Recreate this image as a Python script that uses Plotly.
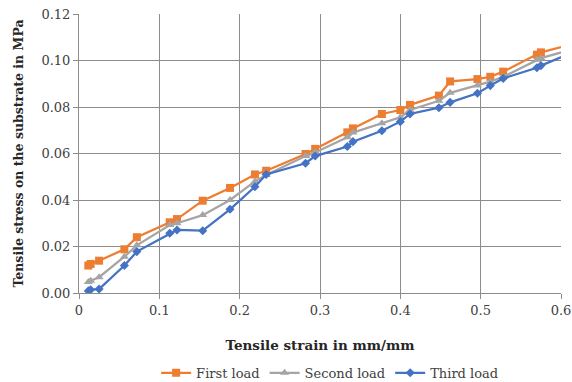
import plotly.graph_objects as go

strain = [0.0116, 0.0145, 0.025, 0.0565, 0.072, 0.113, 0.122, 0.154, 0.188, 0.219,
          0.233, 0.282, 0.294, 0.334, 0.341, 0.377, 0.400, 0.412, 0.448, 0.462,
          0.496, 0.512, 0.528, 0.570, 0.575, 0.62]
first_load = [0.0118, 0.0125, 0.0139, 0.0188, 0.024, 0.0304, 0.0318, 0.0397, 0.0452, 0.051,
              0.0526, 0.0598, 0.062, 0.0691, 0.0708, 0.077, 0.0787, 0.0809, 0.0849, 0.091,
              0.092, 0.093, 0.0952, 0.1025, 0.1035, 0.1075]
second_load = [0.0047, 0.0053, 0.0068, 0.0156, 0.0205, 0.0292, 0.030, 0.0335, 0.040, 0.048,
               0.0508, 0.0589, 0.0604, 0.067, 0.069, 0.073, 0.0756, 0.0787, 0.0827, 0.0861,
               0.0892, 0.0909, 0.093, 0.1003, 0.101, 0.1054]
third_load = [0.0009, 0.0014, 0.0017, 0.0118, 0.0178, 0.0257, 0.0271, 0.0268, 0.036, 0.0457,
              0.051, 0.0558, 0.0589, 0.063, 0.0651, 0.0698, 0.0737, 0.077, 0.0797, 0.082,
              0.0859, 0.0892, 0.0923, 0.0969, 0.0978, 0.1043]

x_tick_vals = [0, 0.1, 0.2, 0.3, 0.4, 0.5, 0.6]
x_tick_text = ["0", "0.1", "0.2", "0.3", "0.4", "0.5", "0.6"]
y_tick_vals = [0, 0.02, 0.04, 0.06, 0.08, 0.10, 0.12]
y_tick_text = ["0.00", "0.02", "0.04", "0.06", "0.08", "0.10", "0.12"]

series = [
    ("First load", first_load, "#ED7D31", "square", 8),
    ("Second load", second_load, "#A5A5A5", "triangle-up", 8),
    ("Third load", third_load, "#4472C4", "diamond", 7),
]

FONT = "DejaVu Serif"
fig = go.Figure()
for name, ys, color, sym, size in series:
    fig.add_trace(go.Scatter(
        x=strain, y=ys, name=name, mode="lines+markers",
        line=dict(color=color, width=2.25),
        marker=dict(symbol=sym, size=size, color=color),
        cliponaxis=True,
    ))

axis_common = dict(
    showgrid=True, gridcolor="#8c8c8c", gridwidth=1,
    showline=True, linecolor="#8c8c8c", linewidth=1,
    ticks="outside", ticklen=5, tickcolor="#8c8c8c",
    zeroline=False, automargin=False,
    tickfont=dict(family=FONT, size=13, color="#404040"),
)
fig.update_xaxes(range=[0, 0.6], tickmode="array", tickvals=x_tick_vals, ticktext=x_tick_text,
                 title=dict(text="<b>Tensile strain in mm/mm</b>",
                            font=dict(family=FONT, size=13.5, color="#262626"), standoff=23),
                 **axis_common)
fig.update_yaxes(range=[0, 0.12], tickmode="array", tickvals=y_tick_vals, ticktext=y_tick_text,
                 title=dict(text="<b>Tensile stress on the substrate in MPa</b>",
                            font=dict(family=FONT, size=12.5, color="#262626"), standoff=15),
                 **axis_common)
fig.update_layout(
    width=572, height=382,
    margin=dict(l=79, r=11, t=14, b=89, autoexpand=False),
    plot_bgcolor="white", paper_bgcolor="white",
    legend=dict(orientation="h", x=0.521, xanchor="center",
                yref="container", y=0.024, yanchor="middle",
                font=dict(family=FONT, size=13, color="#404040"),
                itemwidth=30, tracegroupgap=0),
)
fig.write_html("out.html")
